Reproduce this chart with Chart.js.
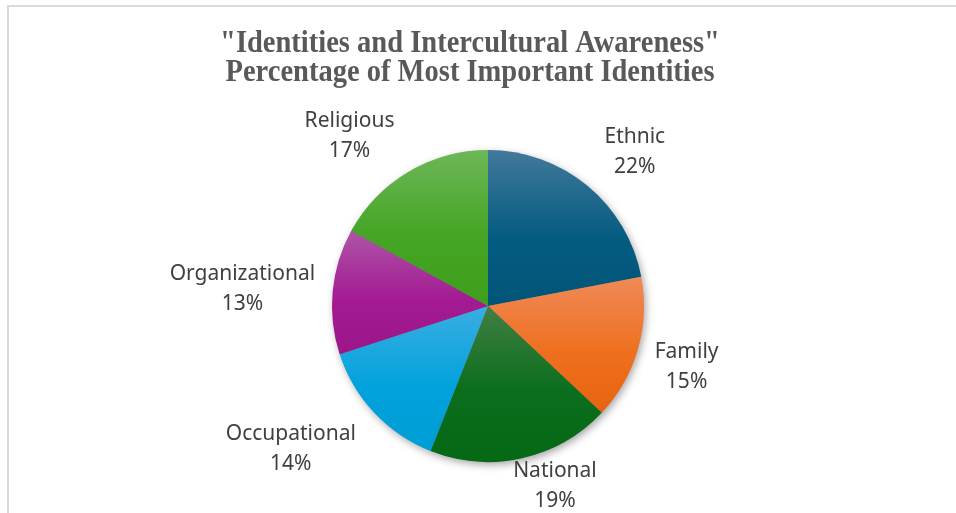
<!DOCTYPE html>
<html>
<head>
    <title>Identities and Intercultural Awareness</title>
    <meta name="viewport" content="width=device-width, initial-scale=1.0">
    <style>
        html, body { margin: 0; padding: 0; background: #fff; }
        #wrap { width: 956px; height: 513px; position: relative; }
    </style>
</head>
<body>
    <div id="wrap">
        <canvas id="pieChart"></canvas>
    </div>

    <!-- Chart.js -->
    <script src="https://cdn.jsdelivr.net/npm/chart.js"></script>

    <script>
        // Survey data
        var identities = ['Ethnic', 'Family', 'National', 'Occupational', 'Organizational', 'Religious'];
        var percents = [22, 15, 19, 14, 13, 17];
        var titleLines = ['"Identities and Intercultural Awareness"', 'Percentage of Most Important Identities'];

        // slice colours, light (top) to full (bottom)
        var topColors = ['#42799a', '#f08a58', '#417f44', '#3aaee2', '#ae55a6', '#6db757'];
        var baseColors = ['#055c82', '#ee701f', '#0a6e1c', '#02a2dc', '#a31b93', '#45a524'];
        var bottomColors = ['#005577', '#e8630f', '#056815', '#009dd6', '#9d1589', '#3e9f1c'];

        // small nudges for the outside labels
        var labelNudge = [[14, -3], [-3, 2], [19, -18], [-20, 3], [4, -1], [-25, -1]];

        function sliceGradient(context) {
            var chart = context.chart;
            var area = chart.chartArea;
            var i = context.dataIndex;
            if (!area) return baseColors[i];
            var cx = (area.left + area.right) / 2;
            var cy = (area.top + area.bottom) / 2;
            var r = Math.min(area.width, area.height) / 2;
            var total = percents.reduce(function (a, b) { return a + b; }, 0);
            var before = 0;
            for (var k = 0; k < i; k++) before += percents[k];
            var a0 = -Math.PI / 2 + before / total * Math.PI * 2;
            var a1 = a0 + percents[i] / total * Math.PI * 2;
            var ys = [cy, cy + r * Math.sin(a0), cy + r * Math.sin(a1)];
            // does the slice pass through the top or the bottom of the circle?
            [-Math.PI / 2, Math.PI / 2, Math.PI * 1.5].forEach(function (a) {
                if (a > a0 && a < a1) ys.push(cy + r * Math.sin(a));
            });
            var y0 = Math.min.apply(null, ys);
            var y1 = Math.max.apply(null, ys);
            var g = chart.ctx.createLinearGradient(0, y0, 0, y1);
            g.addColorStop(0, topColors[i]);
            g.addColorStop(0.55, baseColors[i]);
            g.addColorStop(1, bottomColors[i]);
            return g;
        }

        // frame, title and the soft shadow under the pie
        var decorPlugin = {
            id: 'decor',
            beforeDraw: function (chart) {
                var ctx = chart.ctx;
                ctx.save();
                ctx.fillStyle = '#d9d9d9';
                ctx.fillRect(7, 5, 2, chart.height);
                ctx.fillRect(7, 5, chart.width, 2);

                ctx.fillStyle = '#595959';
                ctx.font = 'bold 31px "Liberation Serif", "Times New Roman", serif';
                ctx.textAlign = 'center';
                ctx.textBaseline = 'alphabetic';
                var baselines = [52, 81];
                titleLines.forEach(function (line, n) {
                    ctx.save();
                    ctx.translate(470, baselines[n]);
                    ctx.scale(0.92, 1);
                    ctx.fillText(line, 0, 0);
                    ctx.restore();
                });
                ctx.restore();
            },
            beforeDatasetsDraw: function (chart) {
                var arc = chart.getDatasetMeta(0).data[0];
                if (!arc) return;
                var ctx = chart.ctx;
                ctx.save();
                ctx.shadowColor = 'rgba(0, 0, 0, 0.38)';
                ctx.shadowBlur = 9;
                ctx.shadowOffsetX = 2;
                ctx.shadowOffsetY = 3;
                ctx.fillStyle = '#777';
                ctx.beginPath();
                ctx.arc(arc.x, arc.y, arc.outerRadius - 0.5, 0, Math.PI * 2);
                ctx.fill();
                ctx.restore();
            },
            afterDatasetsDraw: function (chart) {
                var ctx = chart.ctx;
                var meta = chart.getDatasetMeta(0);
                ctx.save();
                ctx.fillStyle = '#404040';
                ctx.font = '21px "Noto Sans", "Open Sans", sans-serif';
                ctx.textAlign = 'center';
                ctx.textBaseline = 'alphabetic';
                meta.data.forEach(function (arc, i) {
                    var mid = (arc.startAngle + arc.endAngle) / 2;
                    var ux = Math.cos(mid);
                    var uy = Math.sin(mid);
                    var lines = [identities[i], percents[i] + '%'];
                    var halfW = Math.max(ctx.measureText(lines[0]).width, ctx.measureText(lines[1]).width) / 2;
                    var halfH = 22;
                    var d = arc.outerRadius + 22;
                    var x = arc.x + ux * (d + halfW) + labelNudge[i][0];
                    var y = arc.y + uy * (d + halfH) + labelNudge[i][1];
                    ctx.fillText(lines[0], x, y - 6);
                    ctx.fillText(lines[1], x, y + 24);
                });
                ctx.restore();
            }
        };

        var pieChartCtx = document.getElementById('pieChart').getContext('2d');

        new Chart(pieChartCtx, {
            type: 'pie',
            data: {
                labels: identities,
                datasets: [{
                    data: percents,
                    backgroundColor: sliceGradient,
                    borderWidth: 0
                }]
            },
            options: {
                responsive: true,
                maintainAspectRatio: false,
                animation: false,
                layout: {
                    padding: { top: 150, bottom: 51, left: 188, right: 168 }
                },
                plugins: {
                    legend: { display: false },
                    tooltip: { enabled: false },
                    title: { display: false }
                }
            },
            plugins: [decorPlugin]
        });
    </script>
</body>
</html>
